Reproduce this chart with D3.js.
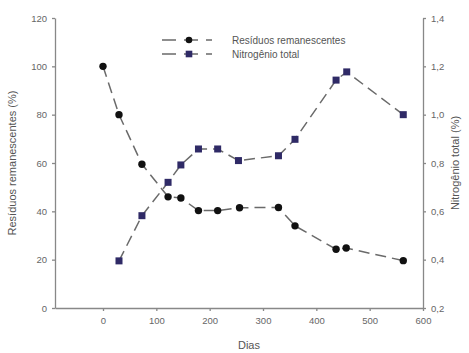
<!DOCTYPE html>
<html>
<head>
<meta charset="utf-8">
<script src="https://cdn.jsdelivr.net/npm/d3@7"></script>
<style>
  body { margin: 0; background: #fff; }
  svg text { font-family: "Liberation Sans", Arial, sans-serif; fill: #555; }
</style>
</head>
<body>
<div class="graphic"></div>
<script>
// days
var diasResiduos = [0, 30, 73, 122, 146, 179, 215, 256, 329, 360, 437, 456, 563];
var residuos = [100, 80, 59.5, 46, 45.5, 40.3, 40.3, 41.5, 41.6, 34, 24.3, 24.8, 19.6];
var diasNitro = [30, 73, 122, 146, 179, 215, 254, 329, 360, 437, 457, 563];
var nitrogenio = [0.395, 0.582, 0.72, 0.792, 0.858, 0.858, 0.81, 0.83, 0.898, 1.143, 1.177, 1.0];

var xTicks = [0, 100, 200, 300, 400, 500, 600];
var yLeftTicks = [0, 20, 40, 60, 80, 100, 120];
var yRightTicks = [0.2, 0.4, 0.6, 0.8, 1.0, 1.2, 1.4];
var legendLabels = ["Resíduos remanescentes", "Nitrogênio total"];

var width = 469, height = 353;
var margin = { top: 18, right: 46, bottom: 45, left: 55 };

var svg = d3.select(".graphic").append("svg")
    .attr("width", width)
    .attr("height", height);

var x = d3.scaleLinear().domain([-90, 600]).range([margin.left, width - margin.right]);
var yL = d3.scaleLinear().domain([0, 120]).range([height - margin.bottom, margin.top]);
var yR = d3.scaleLinear().domain([0.2, 1.4]).range([height - margin.bottom, margin.top]);

var fmt = d3.format(".1f");
var axisColor = "#888";

var xAxis = svg.append("g")
    .attr("transform", `translate(0,${height - margin.bottom})`)
    .call(d3.axisBottom(x).tickValues(xTicks).tickSize(3).tickPadding(6).tickSizeOuter(0));
var leftAxis = svg.append("g")
    .attr("transform", `translate(${margin.left},0)`)
    .call(d3.axisLeft(yL).tickValues(yLeftTicks).tickSize(3).tickPadding(5).tickSizeOuter(0));
var rightAxis = svg.append("g")
    .attr("transform", `translate(${width - margin.right},0)`)
    .call(d3.axisRight(yR).tickValues(yRightTicks).tickSize(3).tickPadding(5).tickSizeOuter(0)
        .tickFormat(d => fmt(d).replace(".", ",")));

[xAxis, leftAxis, rightAxis].forEach(function (g) {
    g.selectAll("path, line").attr("stroke", axisColor).attr("stroke-width", 1.3);
    g.selectAll("text").attr("font-size", 9.5).style("fill", "#666");
});

// axis titles
svg.append("text")
    .attr("transform", `translate(16,${(margin.top + height - margin.bottom) / 2}) rotate(-90)`)
    .attr("text-anchor", "middle")
    .attr("font-size", 11)
    .text("Resíduos remanescentes (%)");
svg.append("text")
    .attr("transform", `translate(459,${(margin.top + height - margin.bottom) / 2}) rotate(-90)`)
    .attr("text-anchor", "middle")
    .attr("font-size", 11)
    .text("Nitrogênio total (%)");
svg.append("text")
    .attr("x", 249).attr("y", 349)
    .attr("text-anchor", "middle")
    .attr("font-size", 11)
    .text("Dias");

var lineColor = "#6a6a6a";
var dash = "11,6";

var resData = diasResiduos.map((d, i) => [d, residuos[i]]);
var nitData = diasNitro.map((d, i) => [d, nitrogenio[i]]);

svg.append("path")
    .datum(resData)
    .attr("fill", "none")
    .attr("stroke", lineColor)
    .attr("stroke-width", 1.5)
    .attr("stroke-dasharray", dash)
    .attr("d", d3.line().x(d => x(d[0])).y(d => yL(d[1])));

svg.append("path")
    .datum(nitData)
    .attr("fill", "none")
    .attr("stroke", lineColor)
    .attr("stroke-width", 1.5)
    .attr("stroke-dasharray", dash)
    .attr("d", d3.line().x(d => x(d[0])).y(d => yR(d[1])));

svg.append("g").selectAll("circle")
    .data(resData)
    .join("circle")
    .attr("cx", d => x(d[0]))
    .attr("cy", d => yL(d[1]))
    .attr("r", 3.7)
    .attr("fill", "#111");

var sq = 7;
svg.append("g").selectAll("rect")
    .data(nitData)
    .join("rect")
    .attr("x", d => x(d[0]) - sq / 2)
    .attr("y", d => yR(d[1]) - sq / 2)
    .attr("width", sq)
    .attr("height", sq)
    .attr("fill", "#2f2a66");

// legend
var legend = svg.append("g").attr("transform", "translate(162,40)");
legendLabels.forEach(function (label, i) {
    var g = legend.append("g").attr("transform", `translate(0,${i * 14})`);
    g.append("line").attr("x1", 0).attr("x2", 50).attr("y1", 0).attr("y2", 0)
        .attr("stroke", lineColor).attr("stroke-width", 1.5).attr("stroke-dasharray", "14,8");
    if (i === 0) {
        g.append("circle").attr("cx", 27).attr("cy", 0).attr("r", 3.3).attr("fill", "#111");
    } else {
        g.append("rect").attr("x", 27 - 3.3).attr("y", -3.3).attr("width", 6.6).attr("height", 6.6).attr("fill", "#2f2a66");
    }
    g.append("text").attr("x", 70).attr("y", 3.5).attr("font-size", 10).text(label);
});
</script>
</body>
</html>
